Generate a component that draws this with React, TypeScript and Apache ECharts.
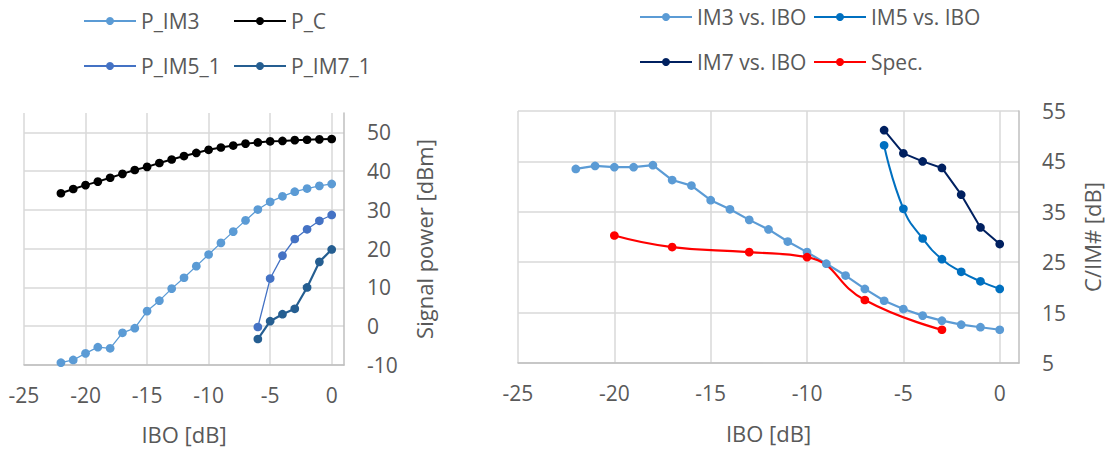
import React, { useEffect, useRef } from "react";
import * as echarts from "echarts";

const iboFull = [-22, -21, -20, -19, -18, -17, -16, -15, -14, -13, -12, -11, -10, -9, -8, -7, -6, -5, -4, -3, -2, -1, 0];
const iboHigh = [-6, -5, -4, -3, -2, -1, 0];
const iboSpec = [-20, -17, -13, -10, -7, -3];

const pIM3 = [-9.4, -8.7, -7.0, -5.4, -5.7, -1.7, -0.5, 3.9, 6.6, 9.7, 12.5, 15.5, 18.5, 21.5, 24.4, 27.3, 30.1, 32.1, 33.5, 34.7, 35.5, 36.2, 36.7];
const pC = [34.3, 35.4, 36.4, 37.3, 38.3, 39.3, 40.3, 41.1, 42.1, 43.0, 43.9, 44.7, 45.5, 46.1, 46.6, 47.1, 47.4, 47.7, 47.8, 48.0, 48.1, 48.2, 48.3];
const pIM5 = [-0.2, 12.3, 18.2, 22.5, 25.0, 27.2, 28.7];
const pIM7 = [-3.3, 1.3, 3.1, 4.5, 10.0, 16.6, 19.8];

const im3 = [43.5, 44.1, 43.85, 43.85, 44.25, 41.3, 40.2, 37.3, 35.5, 33.4, 31.5, 29.1, 27.0, 24.7, 22.35, 19.7, 17.35, 15.7, 14.4, 13.4, 12.6, 12.1, 11.6];
const im5 = [48.2, 35.6, 29.7, 25.6, 23.1, 21.2, 19.7];
const im7 = [51.2, 46.6, 45.0, 43.7, 38.4, 31.9, 28.6];
const spec = [30.3, 28.0, 27.0, 26.0, 17.5, 11.6];

const xTicks = [-25, -20, -15, -10, -5, 0];
const leftYTicks = [-10, 0, 10, 20, 30, 40, 50];
const rightYTicks = [5, 15, 25, 35, 45, 55];

const zip = (xs: number[], ys: number[]) => xs.map((x, i) => [x, ys[i]]);

const FONT = "'Open Sans', sans-serif";
const TXT = "#595959";
const GRIDC = "#D9D9D9";
const AXISC = "#BFBFBF";

function xAxis(gridIndex: number, gap: number) {
  return {
    type: "value",
    gridIndex,
    min: -25,
    max: 1,
    interval: 5,
    name: "IBO [dB]",
    nameLocation: "middle",
    nameGap: gap,
    nameTextStyle: { fontFamily: FONT, fontSize: 22, color: TXT },
    axisLine: { show: true, onZero: false, lineStyle: { color: AXISC, width: 1.5 } },
    axisTick: { show: false, customValues: xTicks },
    axisLabel: { customValues: xTicks, fontFamily: FONT, fontSize: 21, color: TXT, margin: 19 },
    splitLine: { show: true, lineStyle: { color: GRIDC, width: 1.5 } },
  };
}

function yAxis(gridIndex: number, min: number, max: number, ticks: number[], name: string, gap: number) {
  return {
    type: "value",
    gridIndex,
    position: "right",
    min,
    max,
    name,
    nameLocation: "middle",
    nameRotate: 90,
    nameGap: gap,
    nameTextStyle: { fontFamily: FONT, fontSize: 22, color: TXT },
    axisLine: { show: true, onZero: false, lineStyle: { color: AXISC, width: 1.5 } },
    axisTick: { show: false, customValues: ticks },
    axisLabel: { customValues: ticks, fontFamily: FONT, fontSize: 21, color: TXT, margin: 23 },
    splitLine: { show: true, lineStyle: { color: GRIDC, width: 1.5 } },
  };
}

function legend(name: string, left: number, top: number) {
  return {
    data: [name],
    left,
    top,
    padding: 0,
    itemWidth: 52,
    itemHeight: 10,
    selectedMode: false,
    textStyle: { fontFamily: FONT, fontSize: 21, color: TXT },
  };
}

function line(name: string, xi: number, xs: number[], ys: number[], color: string, width: number, smooth = false) {
  return {
    type: "line",
    name,
    xAxisIndex: xi,
    yAxisIndex: xi,
    data: zip(xs, ys),
    symbol: "circle",
    symbolSize: 8.7,
    smooth,
    lineStyle: { color, width },
    itemStyle: { color },
  };
}

export default function App() {
  const ref = useRef<HTMLDivElement>(null);
  useEffect(() => {
    document.body.style.margin = "0";
    const chart = echarts.init(ref.current!, undefined, { renderer: "svg" });
    chart.setOption({
      animation: false,
      backgroundColor: "#ffffff",
      grid: [
        { left: 24, top: 113, width: 320, height: 252 },
        { left: 518, top: 111, width: 501, height: 252 },
      ],
      xAxis: [xAxis(0, 58), xAxis(1, 59)],
      yAxis: [
        yAxis(0, -10, 55, leftYTicks, "Signal power [dBm]", 69),
        yAxis(1, 5, 55, rightYTicks, "C/IM# [dB]", 62),
      ],
      legend: [
        legend("P_IM3", 83, 10.5),
        legend("P_C", 233, 10.5),
        legend("P_IM5_1", 83, 55.5),
        legend("P_IM7_1", 233, 55.5),
        legend("IM3 vs. IBO", 639, 6.5),
        legend("IM5 vs. IBO", 813, 6.5),
        legend("IM7 vs. IBO", 639, 51.5),
        legend("Spec.", 813, 51.5),
      ],
      series: [
        line("P_IM3", 0, iboFull, pIM3, "#5B9BD5", 1.3),
        line("P_C", 0, iboFull, pC, "#000000", 2),
        line("P_IM5_1", 0, iboHigh, pIM5, "#4472C4", 1.3),
        line("P_IM7_1", 0, iboHigh, pIM7, "#255E91", 2.2),
        line("IM3 vs. IBO", 1, iboFull, im3, "#5B9BD5", 2.2),
        line("IM5 vs. IBO", 1, iboHigh, im5, "#0070C0", 2, true),
        line("IM7 vs. IBO", 1, iboHigh, im7, "#002060", 2),
        line("Spec.", 1, iboSpec, spec, "#FF0000", 2.2, true),
      ],
    });
    return () => chart.dispose();
  }, []);
  return <div ref={ref} style={{ position: "absolute", left: 0, top: 0, width: 1110, height: 452 }} />;
}
